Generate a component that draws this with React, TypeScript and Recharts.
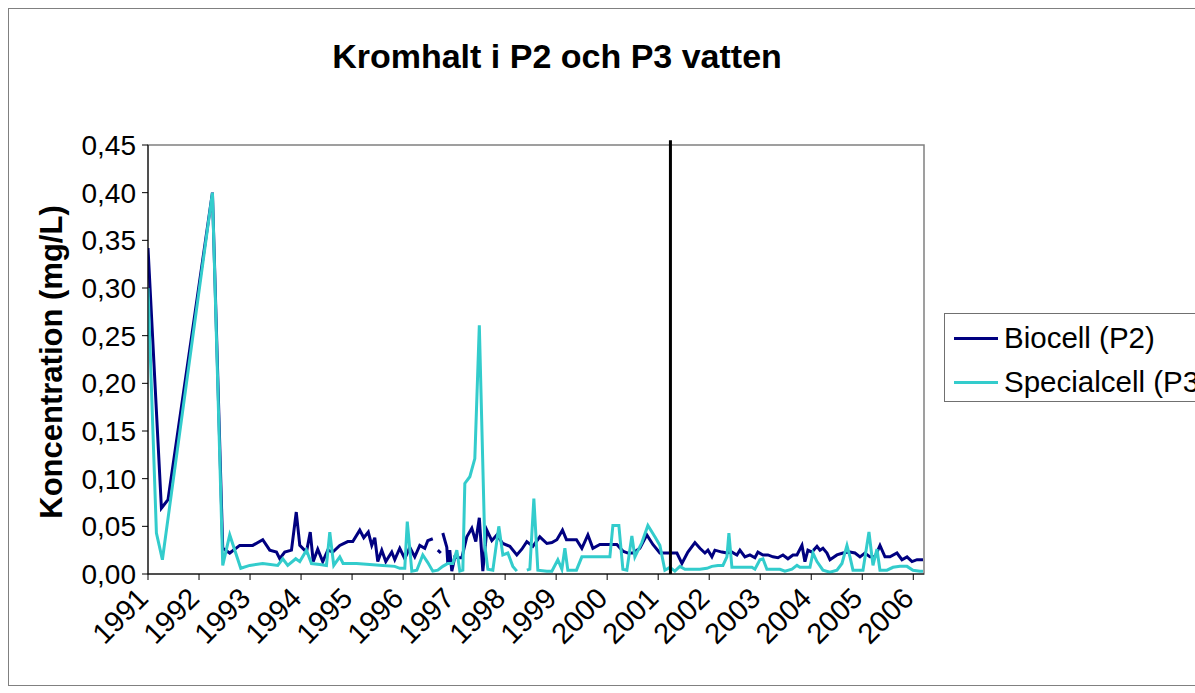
import React from 'react';
import { LineChart, Line, XAxis, YAxis, ReferenceLine, ReferenceArea } from 'recharts';

const FONT = '"Liberation Sans", Arial, sans-serif';

const title = 'Kromhalt i P2 och P3 vatten';
const yTitle = 'Koncentration (mg/L)';
const seriesNames = ['Biocell (P2)', 'Specialcell (P3)'];
const seriesColors = ['#000080', '#33CCCC'];

const yearTicks = [1991, 1992, 1993, 1994, 1995, 1996, 1997, 1998, 1999, 2000, 2001, 2002, 2003, 2004, 2005, 2006];
const yTicks = [0, 0.05, 0.1, 0.15, 0.2, 0.25, 0.3, 0.35, 0.4, 0.45];
const xDomainMax = 2006.21;
const markerYear = 2001.24;
const markerTop = 0.455;

const biocellYears = [
  1991.0, 1991.263, 1991.392, 1992.263, 1992.465, 1992.602, 1992.798, 1993.053, 1993.249, 1993.386,
  1993.518, 1993.582, 1993.68, 1993.812, 1993.906, 1993.975, 1994.106, 1994.18, 1994.239, 1994.327,
  1994.425, 1994.524, 1994.622, 1994.759, 1994.916, 1995.014, 1995.151, 1995.229, 1995.318, 1995.386,
  1995.445, 1995.504, 1995.582, 1995.661, 1995.778, 1995.837, 1995.935, 1996.033, 1996.131, 1996.229,
  1996.327, 1996.425, 1996.484, 1996.582, 1996.631, 1996.68, 1996.739, 1996.759, 1996.778, 1996.857,
  1996.876, 1996.915, 1996.955, 1997.014, 1997.073, 1997.151, 1997.249, 1997.347, 1997.425, 1997.494,
  1997.563, 1997.641, 1997.739, 1997.837, 1997.955, 1998.092, 1998.229, 1998.327, 1998.425, 1998.543,
  1998.68, 1998.818, 1998.916, 1999.014, 1999.124, 1999.202, 1999.3, 1999.398, 1999.504, 1999.622,
  1999.72, 1999.857, 1999.955, 2000.053, 2000.19, 2000.308, 2000.406, 2000.504, 2000.641, 2000.778,
  2000.896, 2001.033, 2001.171, 2001.288, 2001.367, 2001.465, 2001.582, 2001.72, 2001.818, 2001.916,
  2001.975, 2002.053, 2002.112, 2002.249, 2002.347, 2002.445, 2002.543, 2002.602, 2002.7, 2002.798,
  2002.896, 2002.955, 2003.053, 2003.151, 2003.249, 2003.347, 2003.445, 2003.543, 2003.641, 2003.72,
  2003.818, 2003.876, 2003.935, 2004.014, 2004.112, 2004.171, 2004.229, 2004.308, 2004.367, 2004.504,
  2004.622, 2004.759, 2004.857, 2004.955, 2005.053, 2005.151, 2005.249, 2005.347, 2005.445, 2005.543,
  2005.68, 2005.778, 2005.877, 2005.975, 2006.073, 2006.19,
];
const biocellValues = [
  0.342, 0.069, 0.078, 0.4, 0.027, 0.022, 0.03, 0.03, 0.036, 0.025,
  0.023, 0.016, 0.023, 0.025, 0.065, 0.03, 0.023, 0.044, 0.013, 0.026,
  0.013, 0.025, 0.023, 0.03, 0.034, 0.034, 0.046, 0.038, 0.044, 0.03,
  0.038, 0.013, 0.025, 0.013, 0.023, 0.015, 0.027, 0.016, 0.028, 0.018,
  0.03, 0.027, 0.035, 0.037, null, 0.025, 0.022, null, 0.043, 0.028,
  0.011, 0.025, 0.003, 0.018, 0.017, 0.017, 0.039, 0.048, 0.034, 0.059,
  0.003, 0.046, 0.035, 0.041, 0.032, 0.029, 0.02, 0.026, 0.034, 0.029,
  0.039, 0.032, 0.033, 0.036, 0.046, 0.036, 0.036, 0.036, 0.027, 0.041,
  0.027, 0.031, 0.031, 0.031, 0.031, 0.024, 0.022, 0.022, 0.027, 0.041,
  0.031, 0.022, 0.022, 0.022, 0.022, 0.011, 0.023, 0.033, 0.027, 0.022,
  0.025, 0.018, 0.025, 0.023, 0.022, 0.023, 0.02, 0.025, 0.018, 0.02,
  0.017, 0.023, 0.02, 0.02, 0.018, 0.017, 0.02, 0.016, 0.02, 0.02,
  0.03, 0.013, 0.025, 0.023, 0.029, 0.025, 0.027, 0.022, 0.015, 0.02,
  0.022, 0.023, 0.022, 0.018, 0.022, 0.018, 0.018, 0.03, 0.018, 0.018,
  0.022, 0.015, 0.018, 0.013, 0.015, 0.015,
];

const specialYears = [
  1991.0, 1991.165, 1991.282, 1992.263, 1992.465, 1992.602, 1992.818, 1992.994, 1993.249, 1993.543,
  1993.641, 1993.739, 1993.896, 1993.975, 1994.106, 1994.204, 1994.367, 1994.498, 1994.563, 1994.641,
  1994.759, 1994.824, 1995.086, 1995.347, 1995.602, 1995.837, 1995.935, 1996.033, 1996.082, 1996.171,
  1996.269, 1996.386, 1996.484, 1996.582, 1996.68, 1996.778, 1996.876, 1996.975, 1997.053, 1997.112,
  1997.171, 1997.21, 1997.308, 1997.406, 1997.494, 1997.602, 1997.661, 1997.759, 1997.876, 1997.955,
  1998.053, 1998.151, 1998.229, 1998.327, 1998.425, 1998.484, 1998.563, 1998.641, 1998.818, 1998.916,
  1999.033, 1999.112, 1999.171, 1999.229, 1999.398, 1999.504, 1999.661, 1999.798, 1999.955, 2000.053,
  2000.112, 2000.229, 2000.308, 2000.386, 2000.484, 2000.543, 2000.68, 2000.798, 2000.935, 2001.033,
  2001.131, 2001.229, 2001.327, 2001.425, 2001.524, 2001.68, 2001.818, 2001.955, 2002.053, 2002.171,
  2002.269, 2002.347, 2002.386, 2002.445, 2002.563, 2002.7, 2002.837, 2002.896, 2002.994, 2003.053,
  2003.131, 2003.249, 2003.386, 2003.484, 2003.622, 2003.72, 2003.778, 2003.975, 2004.033, 2004.112,
  2004.229, 2004.367, 2004.504, 2004.602, 2004.7, 2004.759, 2004.818, 2004.916, 2005.014, 2005.131,
  2005.21, 2005.288, 2005.347, 2005.484, 2005.602, 2005.739, 2005.877, 2005.994, 2006.131, 2006.19,
];
const specialValues = [
  0.3, 0.043, 0.015, 0.4, 0.009, 0.041, 0.006, 0.009, 0.011, 0.009,
  0.016, 0.009, 0.016, 0.013, 0.025, 0.011, 0.01, 0.009, 0.044, 0.009,
  0.018, 0.011, 0.011, 0.01, 0.009, 0.008, 0.006, 0.006, 0.055, 0.003,
  0.004, 0.02, 0.012, 0.003, 0.004, 0.008, 0.011, 0.011, 0.025, 0.003,
  0.004, 0.095, 0.102, 0.121, 0.261, 0.03, 0.005, 0.004, 0.05, 0.02,
  0.022, 0.008, 0.003, null, 0.004, 0.005, 0.079, 0.004, 0.003, 0.003,
  0.015, 0.005, 0.027, 0.004, 0.004, 0.018, 0.018, 0.018, 0.018, 0.018,
  0.051, 0.051, 0.005, 0.004, 0.04, 0.018, 0.033, 0.051, 0.039, 0.03,
  0.004, 0.007, 0.003, 0.008, 0.005, 0.005, 0.005, 0.006, 0.008, 0.009,
  0.009, 0.018, 0.043, 0.007, 0.007, 0.007, 0.007, 0.005, 0.015, 0.016,
  0.005, 0.005, 0.005, 0.003, 0.005, 0.009, 0.007, 0.007, 0.022, 0.013,
  0.004, 0.002, 0.004, 0.011, 0.03, 0.018, 0.004, 0.004, 0.004, 0.044,
  0.009, 0.026, 0.004, 0.004, 0.007, 0.008, 0.008, 0.004, 0.003, 0.003,
];

const biocellData = biocellYears.map((t, i) => ({ t, v: biocellValues[i] }));
const specialData = specialYears.map((t, i) => ({ t, v: specialValues[i] }));

const fmtY = (v: number) => v.toFixed(2).replace('.', ',');

const XTick = (props: any) => {
  const { x, y, payload } = props;
  return (
    <g transform={`translate(${x + 2},${y + 18})`}>
      <text x={0} y={0} textAnchor="end" transform="rotate(-45)" fontFamily={FONT} fontSize={29} fill="#000">
        {payload.value}
      </text>
    </g>
  );
};

export default function App() {
  return (
    <div style={{ position: 'fixed', left: 0, top: 0, width: 1195, height: 693, overflow: 'hidden', background: '#fff' }}>
      <div style={{ position: 'absolute', left: 8, top: 8, width: 1220, height: 676, border: '1px solid #808080' }} />
      <div style={{ position: 'absolute', left: 0, top: 0 }}>
        <LineChart width={1195} height={693} margin={{ top: 145, right: 271, bottom: 39, left: 88 }}>
          <XAxis
            dataKey="t"
            type="number"
            domain={[1991, xDomainMax]}
            ticks={yearTicks}
            allowDataOverflow
            tick={<XTick />}
            tickSize={6}
            height={80}
            stroke="#000"
            tickLine={{ stroke: '#000' }}
            axisLine={{ stroke: '#000' }}
          />
          <YAxis
            type="number"
            domain={[0, 0.45]}
            ticks={yTicks}
            tickFormatter={fmtY}
            width={60}
            tickSize={6}
            tickMargin={6}
            stroke="#000"
            tick={{ fontFamily: FONT, fontSize: 28, fill: '#000' }}
          />
          <ReferenceArea x1={1991} x2={xDomainMax} y1={0} y2={0.45} fill="none" stroke="#808080" strokeWidth={1.5} ifOverflow="visible" />
          <Line
            data={biocellData}
            dataKey="v"
            type="linear"
            stroke={seriesColors[0]}
            strokeWidth={3}
            dot={false}
            isAnimationActive={false}
            connectNulls={false}
          />
          <Line
            data={specialData}
            dataKey="v"
            type="linear"
            stroke={seriesColors[1]}
            strokeWidth={3}
            dot={false}
            isAnimationActive={false}
            connectNulls={false}
          />
          <ReferenceLine
            segment={[{ x: markerYear, y: 0 }, { x: markerYear, y: markerTop }]}
            stroke="#000"
            strokeWidth={3}
            ifOverflow="visible"
          />
        </LineChart>
      </div>
      <svg width={1195} height={693} style={{ position: 'absolute', left: 0, top: 0, pointerEvents: 'none' }}>
        <text x={557} y={68} textAnchor="middle" fontFamily={FONT} fontWeight="bold" fontSize={34} fill="#000">
          {title}
        </text>
        <text
          x={0}
          y={0}
          transform="translate(62,362) rotate(-90)"
          textAnchor="middle"
          fontFamily={FONT}
          fontWeight="bold"
          fontSize={31}
          fill="#000"
        >
          {yTitle}
        </text>
      </svg>
      <div
        style={{
          position: 'absolute',
          left: 944,
          top: 313,
          width: 300,
          height: 87,
          border: '1px solid #707070',
          background: '#fff',
          fontFamily: FONT,
          fontSize: 29.5,
          color: '#000',
        }}
      >
        {seriesNames.map((name, i) => (
          <div key={name} style={{ position: 'absolute', left: 9, top: 24 + i * 44 - 17, height: 34, display: 'flex', alignItems: 'center', whiteSpace: 'nowrap' }}>
            <div style={{ width: 44, height: 3, background: seriesColors[i], marginRight: 6 }} />
            <span>{name}</span>
          </div>
        ))}
      </div>
    </div>
  );
}
